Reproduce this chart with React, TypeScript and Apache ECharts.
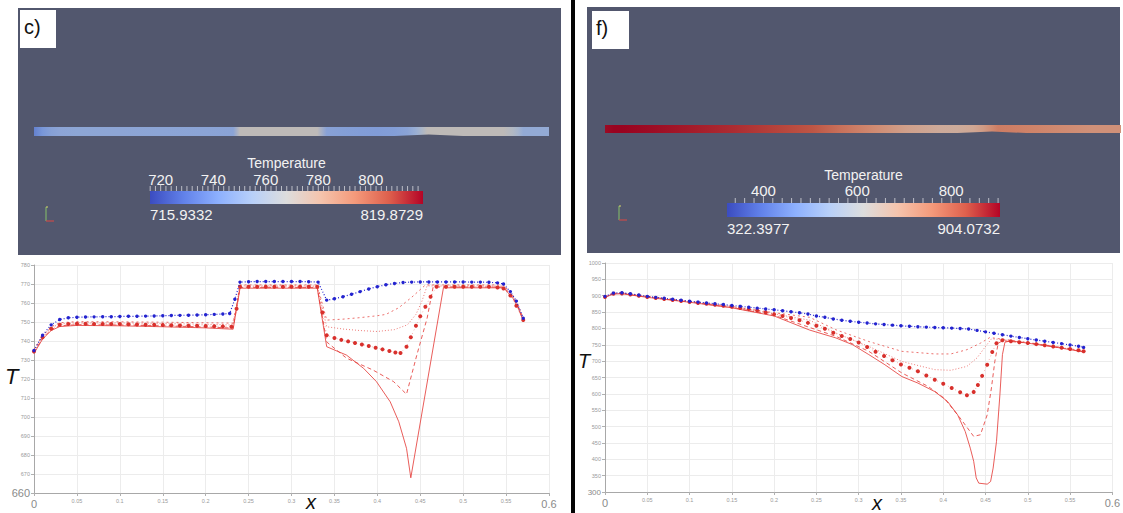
import { useEffect, useRef } from "react";
import * as echarts from "echarts";

type Pt = [number, number];

// ---------- panel c) : temperature along x ----------
const cBlue: Pt[] = [
  [0, 735], [0.01, 743], [0.02, 748.5], [0.03, 751.3], [0.04, 752.2], [0.05, 752.5], [0.06, 752.6],
  [0.07, 752.7], [0.08, 752.8], [0.09, 752.8], [0.1, 752.9], [0.11, 753], [0.12, 753], [0.13, 753.1],
  [0.14, 753.2], [0.15, 753.3], [0.16, 753.4], [0.17, 753.5], [0.18, 753.6], [0.19, 753.7], [0.2, 753.8],
  [0.21, 754], [0.22, 754.2], [0.228, 754.5], [0.234, 762], [0.24, 771], [0.25, 771.2], [0.26, 771.3],
  [0.27, 771.3], [0.28, 771.3], [0.29, 771.3], [0.3, 771.3], [0.31, 771.3], [0.32, 771.2], [0.331, 771],
  [0.341, 761.5], [0.35, 762.2], [0.36, 763.3], [0.37, 764.6], [0.38, 766], [0.39, 767.4], [0.4, 768.6],
  [0.41, 769.6], [0.42, 770.3], [0.43, 770.8], [0.44, 771], [0.45, 771.1], [0.46, 771.1], [0.47, 771.1],
  [0.48, 771.1], [0.49, 771.1], [0.5, 771.1], [0.51, 771], [0.52, 771], [0.53, 770.9], [0.54, 770.6],
  [0.547, 770], [0.555, 766], [0.562, 761], [0.57, 752],
];
const cSolid: Pt[] = [
  [0, 733.5], [0.01, 741], [0.02, 745.5], [0.03, 747.6], [0.05, 748.2], [0.1, 748], [0.15, 747.5],
  [0.2, 746.9], [0.232, 746.2], [0.24, 767.8], [0.33, 767.8], [0.341, 737], [0.364, 732.6], [0.384, 725.6],
  [0.399, 718.6], [0.415, 708], [0.425, 697.5], [0.434, 683.5], [0.439, 668], [0.477, 768], [0.547, 768],
  [0.558, 762.5], [0.564, 757.5], [0.57, 750.5],
];
const cDashed: Pt[] = [
  [0, 734], [0.01, 741.5], [0.02, 746], [0.03, 748], [0.05, 748.6], [0.1, 748.4], [0.15, 748],
  [0.2, 747.4], [0.232, 746.8], [0.24, 768.2], [0.33, 768.2], [0.341, 739.5], [0.364, 731], [0.395, 724.7],
  [0.419, 718.6], [0.434, 712], [0.446, 732.6], [0.458, 752], [0.465, 768.4], [0.547, 768.4],
  [0.558, 763], [0.564, 758], [0.57, 751],
];
const cDots: Pt[] = [
  [0, 734.5], [0.01, 742], [0.02, 746.5], [0.03, 748.5], [0.04, 749], [0.05, 749.1], [0.06, 749.1],
  [0.07, 749], [0.08, 749], [0.09, 748.9], [0.1, 748.9], [0.11, 748.8], [0.12, 748.7], [0.13, 748.6],
  [0.14, 748.5], [0.15, 748.4], [0.16, 748.3], [0.17, 748.2], [0.18, 748.1], [0.19, 748], [0.2, 747.9],
  [0.21, 747.8], [0.22, 747.7], [0.23, 747.5], [0.236, 757], [0.24, 768.5], [0.25, 768.6], [0.26, 768.6],
  [0.27, 768.6], [0.28, 768.6], [0.29, 768.6], [0.3, 768.6], [0.31, 768.6], [0.32, 768.6], [0.33, 768.5],
  [0.336, 755], [0.341, 743], [0.35, 741.6], [0.358, 740.6], [0.366, 739.8], [0.374, 739], [0.382, 738.2],
  [0.39, 737.4], [0.398, 736.5], [0.406, 735.6], [0.414, 734.7], [0.421, 734], [0.427, 733.7],
  [0.434, 737], [0.439, 742], [0.445, 748], [0.45, 753], [0.456, 758], [0.462, 763.3], [0.469, 768.6],
  [0.48, 768.6], [0.49, 768.6], [0.5, 768.6], [0.51, 768.6], [0.52, 768.6], [0.53, 768.5], [0.54, 768.2],
  [0.547, 767.6], [0.555, 764], [0.562, 758.5], [0.57, 751],
];
const cDashDot: Pt[] = [
  [0, 735], [0.01, 742.5], [0.02, 747], [0.03, 749], [0.05, 749.6], [0.1, 749.5], [0.15, 749.2],
  [0.2, 748.8], [0.232, 748.4], [0.24, 769], [0.33, 769], [0.341, 747.5], [0.36, 746.3], [0.38, 745.5],
  [0.4, 745], [0.42, 746], [0.435, 748.5], [0.445, 754], [0.452, 761], [0.458, 769], [0.547, 769],
  [0.558, 763.5], [0.564, 758.5], [0.57, 751.5],
];
const cShortDash: Pt[] = [
  [0, 735.5], [0.01, 743], [0.02, 747.5], [0.03, 749.6], [0.05, 750.2], [0.1, 750.1], [0.15, 749.9],
  [0.2, 749.6], [0.232, 749.4], [0.24, 769.5], [0.33, 769.5], [0.341, 751], [0.36, 751.5], [0.38, 752.3],
  [0.4, 753.3], [0.41, 754], [0.425, 757.5], [0.44, 763], [0.456, 769.5], [0.547, 769.5],
  [0.558, 764], [0.564, 759], [0.57, 752],
];

// ---------- panel f) : temperature along x ----------
const fBlue: Pt[] = [
  [0, 898], [0.01, 908], [0.02, 909], [0.03, 906], [0.04, 902], [0.05, 898], [0.06, 895], [0.07, 892],
  [0.08, 889], [0.09, 886], [0.1, 883], [0.11, 880.5], [0.12, 878], [0.13, 875.5], [0.14, 873],
  [0.15, 870], [0.16, 867.5], [0.17, 865], [0.18, 862], [0.19, 859.5], [0.2, 857], [0.21, 854],
  [0.22, 851], [0.23, 848], [0.24, 844], [0.25, 838], [0.26, 834], [0.27, 829], [0.28, 825], [0.29, 822],
  [0.3, 819], [0.31, 816.5], [0.32, 814], [0.33, 812], [0.34, 810], [0.35, 808], [0.36, 806.5],
  [0.37, 805], [0.38, 804], [0.39, 803], [0.4, 802], [0.41, 801], [0.42, 800], [0.43, 798], [0.44, 794],
  [0.45, 789.5], [0.46, 785], [0.47, 780.5], [0.48, 776.5], [0.49, 772.5], [0.5, 768.5], [0.51, 764.5],
  [0.52, 761], [0.53, 757], [0.54, 753.5], [0.55, 749.5], [0.56, 745.5], [0.566, 742],
];
const fSolid: Pt[] = [
  [0, 895], [0.01, 905], [0.02, 906], [0.05, 895], [0.1, 880], [0.15, 863], [0.2, 838], [0.242, 795],
  [0.273, 771], [0.293, 750], [0.312, 720], [0.331, 689], [0.351, 653], [0.37, 633], [0.39, 607],
  [0.405, 577], [0.417, 536], [0.426, 485], [0.432, 434], [0.436, 394], [0.439, 343], [0.442, 327],
  [0.452, 324], [0.456, 332], [0.459, 373], [0.463, 455], [0.467, 597], [0.47, 720], [0.473, 758],
  [0.48, 762], [0.5, 755], [0.53, 744], [0.566, 728],
];
const fDashed: Pt[] = [
  [0, 896], [0.01, 906], [0.02, 907], [0.05, 896], [0.1, 881], [0.15, 864], [0.2, 840], [0.242, 803],
  [0.273, 776], [0.312, 730], [0.351, 664], [0.382, 623], [0.401, 587], [0.42, 526], [0.436, 470],
  [0.444, 475], [0.452, 536], [0.457, 618], [0.461, 699], [0.465, 755], [0.47, 762], [0.5, 755.5],
  [0.53, 744.5], [0.566, 728.5],
];
const fDots: Pt[] = [
  [0, 896], [0.01, 906], [0.02, 907], [0.03, 904], [0.04, 900], [0.05, 896], [0.06, 893], [0.07, 890],
  [0.08, 887], [0.09, 884], [0.1, 881], [0.11, 878], [0.12, 875.5], [0.13, 872.5], [0.14, 869.5],
  [0.15, 866], [0.16, 862.5], [0.17, 859], [0.18, 855], [0.19, 849.5], [0.2, 843], [0.21, 838],
  [0.22, 832], [0.23, 825], [0.24, 817], [0.25, 808], [0.26, 799], [0.27, 787], [0.28, 777], [0.29, 768],
  [0.3, 757], [0.31, 743], [0.32, 729], [0.33, 716], [0.34, 703], [0.35, 690], [0.36, 680], [0.37, 669],
  [0.38, 656], [0.39, 643], [0.4, 631], [0.41, 618], [0.42, 605], [0.428, 596], [0.436, 606],
  [0.441, 627], [0.446, 655], [0.452, 689], [0.458, 728], [0.463, 755], [0.47, 764], [0.48, 761],
  [0.49, 758], [0.5, 755.5], [0.51, 752], [0.52, 748.5], [0.53, 745], [0.54, 741], [0.55, 737],
  [0.56, 733], [0.566, 730],
];
const fDashDot: Pt[] = [
  [0, 897], [0.01, 907], [0.02, 908], [0.05, 897], [0.1, 882], [0.15, 866], [0.2, 845], [0.242, 825],
  [0.273, 786], [0.312, 745], [0.351, 699], [0.39, 674], [0.409, 672], [0.428, 684], [0.44, 710],
  [0.45, 745], [0.457, 768], [0.47, 766], [0.5, 756], [0.53, 745], [0.566, 730],
];
const fShortDash: Pt[] = [
  [0, 897.5], [0.01, 907.5], [0.02, 908.5], [0.05, 897.5], [0.1, 882.5], [0.15, 867], [0.2, 848],
  [0.242, 834], [0.273, 796], [0.312, 760], [0.351, 730], [0.39, 722], [0.409, 722], [0.428, 735],
  [0.444, 755], [0.455, 772], [0.465, 769], [0.5, 757], [0.53, 746], [0.566, 731],
];

// axis ranges
const xRange: [number, number, number] = [0, 0.6, 0.05];
const cYRange: [number, number, number] = [660, 780, 10];
const fYRange: [number, number, number] = [300, 1000, 50];

// colour legend ranges and labels
const cBarRange: [number, number] = [715.9332, 819.8729];
const cBarLabels = [720, 740, 760, 780, 800];
const cBarMinor = 2;
const fBarRange: [number, number] = [322.3977, 904.0732];
const fBarLabels = [400, 600, 800];
const fBarMinor = 20;

// diverging cool-to-warm map
const coolWarm: [number, number, number][] = [
  [59, 76, 192], [98, 130, 234], [141, 176, 254], [184, 208, 249], [221, 221, 221],
  [245, 196, 173], [244, 154, 123], [222, 96, 77], [180, 4, 38],
];

function mapColor(t: number, shade = 1): string {
  const tt = Math.max(0, Math.min(1, t)) * (coolWarm.length - 1);
  const i = Math.min(coolWarm.length - 2, Math.floor(tt));
  const f = tt - i;
  const a = coolWarm[i], b = coolWarm[i + 1];
  const c = [0, 1, 2].map((k) => Math.round((a[k] + (b[k] - a[k]) * f) * shade));
  return `rgb(${c[0]},${c[1]},${c[2]})`;
}

const GRID_C = { left: 34, top: 265, width: 515, height: 228 };
const GRID_F = { left: 605, top: 263, width: 516, height: 229 };

const BLUE = "#2323cf";
const RED = "#e5413d";
const FONT = "'Liberation Sans', Arial, sans-serif";

function curves(idx: number, sets: { blue: Pt[]; solid: Pt[]; dashed: Pt[]; dots: Pt[]; dashDot: Pt[]; shortDash: Pt[] }) {
  const base = { type: "line", xAxisIndex: idx, yAxisIndex: idx, silent: true, z: 3 };
  return [
    { ...base, data: sets.solid, symbol: "none", lineStyle: { color: RED, width: 1, opacity: 0.85 } },
    { ...base, data: sets.dashed, symbol: "none", lineStyle: { color: RED, width: 1, type: [4, 3], opacity: 0.85 } },
    { ...base, data: sets.dashDot, symbol: "none", lineStyle: { color: RED, width: 1, type: [1, 2], opacity: 0.7 } },
    { ...base, data: sets.shortDash, symbol: "none", lineStyle: { color: RED, width: 1, type: [2, 3], opacity: 0.75 } },
    {
      ...base, data: sets.dots, symbol: "circle", symbolSize: 4, itemStyle: { color: "#d8302c" },
      lineStyle: { color: RED, width: 1, type: [1, 3], opacity: 0.4 },
    },
    {
      ...base, data: sets.blue, symbol: "circle", symbolSize: 3.4, z: 4, itemStyle: { color: BLUE },
      lineStyle: { color: BLUE, width: 1.2, type: [1, 2] },
    },
  ];
}

function colorLegend(
  x: number, y: number, w: number, h: number, range: [number, number], labels: number[], minor: number,
  titleY: number, labelY: number, endY: number,
) {
  const px = (v: number) => x + ((v - range[0]) / (range[1] - range[0])) * w;
  const stops = coolWarm.map((_, i) => ({ offset: i / (coolWarm.length - 1), color: mapColor(i / (coolWarm.length - 1)) }));
  const els: any[] = [
    { type: "rect", shape: { x, y, width: w, height: h }, style: { fill: new echarts.graphic.LinearGradient(0, 0, 1, 0, stops) } },
    { type: "text", x: x + w / 2, y: titleY, style: { text: "Temperature", fill: "#f2f2f2", font: `14px ${FONT}`, align: "center", verticalAlign: "middle" } },
    { type: "text", x, y: endY, style: { text: range[0].toFixed(4), fill: "#f2f2f2", font: `15px ${FONT}`, align: "left", verticalAlign: "middle" } },
    { type: "text", x: x + w, y: endY, style: { text: range[1].toFixed(4), fill: "#f2f2f2", font: `15px ${FONT}`, align: "right", verticalAlign: "middle" } },
  ];
  labels.forEach((v) => {
    els.push({ type: "text", x: px(v), y: labelY, style: { text: String(v), fill: "#f2f2f2", font: `15px ${FONT}`, align: "center", verticalAlign: "middle" } });
  });
  for (let v = Math.ceil(range[0] / minor) * minor; v <= range[1]; v += minor) {
    const major = labels.includes(v);
    els.push({
      type: "line", shape: { x1: px(v), y1: y - (major ? 7 : 5), x2: px(v), y2: y },
      style: { stroke: "#d8d8de", lineWidth: 0.8 },
    });
  }
  return els;
}

function rod(grid: typeof GRID_C, top: number, bottom: number, data: Pt[], range: [number, number], taper: [number, number, number]) {
  const toPx = (v: number) => grid.left + ((v - xRange[0]) / (xRange[1] - xRange[0])) * grid.width;
  const stops = data.map(([xv, t]) => ({
    offset: Math.min(1, xv / xRange[1]),
    color: mapColor((t - range[0]) / (range[1] - range[0]), 0.85),
  }));
  stops.push({ offset: 1, color: stops[stops.length - 1].color });
  const x0 = toPx(0), x1 = toPx(xRange[1]);
  const [a, m, b] = taper.map(toPx);
  return {
    type: "polygon",
    shape: { points: [[x0, top], [x1, top], [x1, bottom], [b, bottom], [m, bottom - 1.5], [a, bottom], [x0, bottom]] },
    style: { fill: new echarts.graphic.LinearGradient(0, 0, 1, 0, stops) },
  };
}

function triad(x: number, y: number) {
  return [
    { type: "line", shape: { x1: x, y1: y, x2: x, y2: y + 14 }, style: { stroke: "#7fb069", lineWidth: 1.2 } },
    { type: "line", shape: { x1: x, y1: y, x2: x + 2, y2: y }, style: { stroke: "#d8d86a", lineWidth: 1.2 } },
    { type: "line", shape: { x1: x, y1: y + 14, x2: x + 8, y2: y + 14 }, style: { stroke: "#c84a4a", lineWidth: 1.2 } },
  ];
}

function axes(y: [number, number, number], bigY: number, bigYSize: number, topYSize: number) {
  const xFmt = (v: number) => {
    const s = String(Number(v.toFixed(2)));
    return v === 0 || Math.abs(v - xRange[1]) < 1e-9 ? `{big|${s}}` : s;
  };
  const yFmt = (v: number) => (v === bigY ? `{big|${v}}` : `{sm|${v}}`);
  const line = { show: true, lineStyle: { color: "#a8a8a8", width: 1 } };
  const split = { show: true, lineStyle: { color: "#ececec", width: 1 } };
  const tick = { show: true, length: 3, lineStyle: { color: "#b0b0b0" } };
  return {
    x: {
      type: "value", min: xRange[0], max: xRange[1], interval: xRange[2],
      axisLine: line, axisTick: tick, splitLine: split,
      axisLabel: { fontSize: 5.5, color: "#9a9a9a", margin: 5, formatter: xFmt, rich: { big: { fontSize: 11, color: "#8a8a8a", fontFamily: FONT } } },
    },
    y: {
      type: "value", min: y[0], max: y[1], interval: y[2],
      axisLine: line, axisTick: tick, splitLine: split,
      axisLabel: {
        color: "#9a9a9a", margin: 4, formatter: yFmt,
        rich: { big: { fontSize: bigYSize, color: "#8a8a8a", fontFamily: FONT }, sm: { fontSize: topYSize, color: "#9a9a9a" } },
      },
    },
  };
}

export default function App() {
  const ref = useRef<HTMLDivElement>(null);

  useEffect(() => {
    if (!ref.current) return;
    const chart = echarts.init(ref.current, undefined, { renderer: "svg" });
    const aC = axes(cYRange, cYRange[0], 11, 5.5);
    const aF = axes(fYRange, fYRange[0], 8, 5.5);

    const graphic: any[] = [
      // 3D view backgrounds
      { type: "rect", shape: { x: 18, y: 8, width: 543, height: 247 }, style: { fill: "#52576e" }, z: -10 },
      { type: "rect", shape: { x: 587, y: 7, width: 533, height: 246 }, style: { fill: "#52576e" }, z: -10 },
      // divider between the two panels
      { type: "rect", shape: { x: 571, y: 0, width: 4, height: 513 }, style: { fill: "#050505" } },
      // panel tags
      { type: "rect", shape: { x: 20, y: 10, width: 36, height: 38 }, style: { fill: "#ffffff" } },
      { type: "text", x: 24, y: 27, style: { text: "c)", fill: "#111", font: `20px ${FONT}`, verticalAlign: "middle" } },
      { type: "rect", shape: { x: 592, y: 11, width: 37, height: 38 }, style: { fill: "#ffffff" } },
      { type: "text", x: 596, y: 28, style: { text: "f)", fill: "#111", font: `20px ${FONT}`, verticalAlign: "middle" } },
      // rods coloured by temperature
      rod(GRID_C, 127, 136, cDashDot, cBarRange, [0.42, 0.46, 0.5]),
      rod(GRID_F, 125, 133, fDashDot, fBarRange, [0.41, 0.45, 0.49]),
      ...colorLegend(150, 191, 273, 13, cBarRange, cBarLabels, cBarMinor, 163, 179, 214),
      ...colorLegend(727, 203, 273, 14, fBarRange, fBarLabels, fBarMinor, 175, 190, 228),
      ...triad(46, 207),
      ...triad(619, 206),
      // axis titles
      { type: "text", x: 5, y: 376, style: { text: "T", fill: "#111", font: `italic 22px ${FONT}`, verticalAlign: "middle" } },
      { type: "text", x: 578, y: 361, style: { text: "T", fill: "#111", font: `italic 20px ${FONT}`, verticalAlign: "middle" } },
      { type: "text", x: 306, y: 502, style: { text: "x", fill: "#111", font: `italic 20px ${FONT}`, verticalAlign: "middle" } },
      { type: "text", x: 872, y: 503, style: { text: "x", fill: "#111", font: `italic 20px ${FONT}`, verticalAlign: "middle" } },
    ];

    chart.setOption({
      animation: false,
      backgroundColor: "#ffffff",
      grid: [
        { ...GRID_C, containLabel: false },
        { ...GRID_F, containLabel: false },
      ],
      xAxis: [{ ...aC.x, gridIndex: 0 }, { ...aF.x, gridIndex: 1 }],
      yAxis: [{ ...aC.y, gridIndex: 0 }, { ...aF.y, gridIndex: 1 }],
      series: [
        ...curves(0, { blue: cBlue, solid: cSolid, dashed: cDashed, dots: cDots, dashDot: cDashDot, shortDash: cShortDash }),
        ...curves(1, { blue: fBlue, solid: fSolid, dashed: fDashed, dots: fDots, dashDot: fDashDot, shortDash: fShortDash }),
      ],
      graphic,
    });
    return () => chart.dispose();
  }, []);

  return <div ref={ref} style={{ position: "absolute", left: 0, top: 0, width: 1123, height: 513 }} />;
}
